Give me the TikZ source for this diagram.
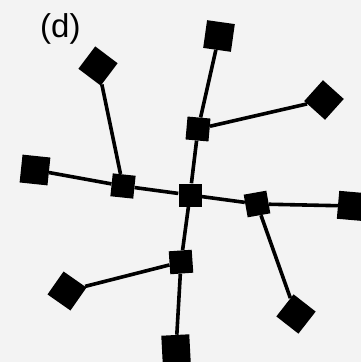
\documentclass[tikz,border=0pt]{standalone}
\usepackage{fontspec}
\setmainfont{Liberation Sans}
\definecolor{bgpanel}{RGB}{243,243,243}
\tikzset{
  hub/.style={rectangle, fill=black, inner sep=0pt, minimum size=23pt},
  leaf/.style={rectangle, fill=black, inner sep=0pt, minimum size=28pt},
  edge/.style={line width=3.6pt}
}
\begin{document}
\begin{tikzpicture}[x=1pt, y=-1pt]
      \fill[bgpanel] (0,0) rectangle (361,362);
      \useasboundingbox (0,0) rectangle (361,362);
      \node[anchor=base west, inner sep=0pt, font=\fontsize{33}{40}\selectfont] (label) at (40,37) {(d)};
      \draw
        (190,195) node[hub] (0){}
        (198,129) node[hub, rotate=-5] (1){}
        (219,36) node[leaf, rotate=-8] (2){}
        (324,100) node[leaf, rotate=-42] (3){}
        (123,186) node[hub, rotate=-6] (4){}
        (35,170) node[leaf, rotate=-6] (5){}
        (98,66) node[leaf, rotate=-37] (6){}
        (257,204) node[hub, rotate=10] (7){}
        (352,206) node[leaf, rotate=-5] (8){}
        (296,314) node[leaf, rotate=-38] (9){}
        (181,262) node[hub, rotate=4] (10){}
        (176,349) node[leaf, rotate=3] (11){}
        (67,291) node[leaf, rotate=-35] (12){};
      \begin{scope}[edge]
        \draw (0) to (1);
        \draw (1) to (2);
        \draw (1) to (3);
        \draw (0) to (4);
        \draw (4) to (5);
        \draw (4) to (6);
        \draw (0) to (7);
        \draw (7) to (8);
        \draw (7) to (9);
        \draw (0) to (10);
        \draw (10) to (11);
        \draw (10) to (12);
      \end{scope}
    \end{tikzpicture}
\end{document}
